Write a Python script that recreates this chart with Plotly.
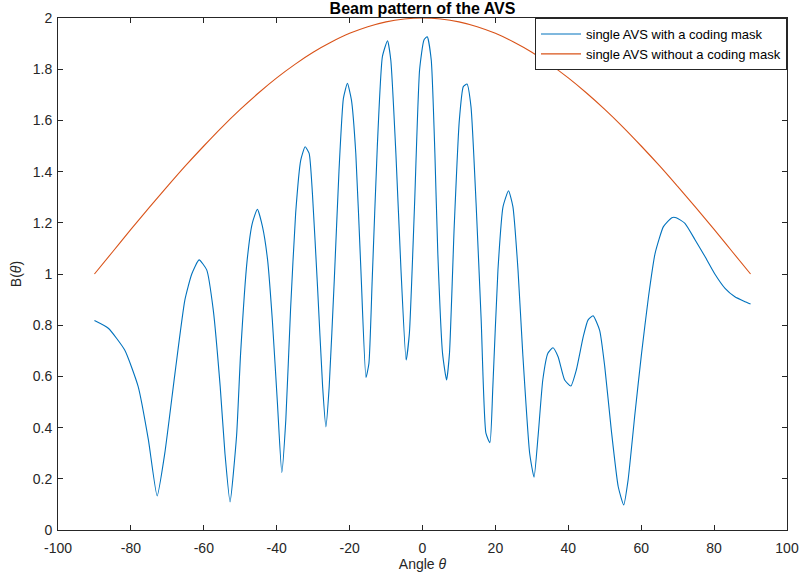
import plotly.graph_objects as go

# ---- data ----
angle_coded = [-90, -86.2, -81.7, -78.0, -75.2, -72.8, -70.7, -67.9, -65.2, -63.3, -61.3,
               -59.2, -57.4, -55.5, -54.2, -52.8, -51.0, -49.9, -48.1, -46.7, -45.3,
               -43.9, -42.5, -41.2, -39.8, -38.6, -37.5, -36.2, -34.8, -33.4, -32.2,
               -31.1, -30.2, -28.8, -27.4, -26.5, -25.6, -24.2, -22.9, -21.7, -20.6,
               -19.5, -18.3, -16.9, -15.5, -14.7, -13.8, -12.4, -11.0, -9.6,
               -8.7, -7.3, -5.9, -4.5, -3.6, -2.2, -0.8, 0.4, 1.3,
               2.4, 3.4, 4.2, 5.5, 6.6, 7.4, 8.7, 10.1, 11.2, 12.2,
               13.3, 14.7, 16.1, 17.4, 18.5, 19.3, 20.7, 22.1, 23.6,
               24.8, 26.2, 27.5, 29.4, 30.6, 31.7, 33.0, 34.4, 35.8,
               37.2, 39.0, 40.7, 42.2, 44.1, 45.4, 46.8,
               48.6, 50.0, 51.8, 53.7, 55.2, 56.4, 58.3, 60.1, 62.0, 63.8, 66.1, 68.4, 69.6,
               72.0, 74.8, 77.5, 80.2, 83.0, 85.7, 88.5, 90]
beam_coded = [0.818, 0.788, 0.703, 0.56, 0.352, 0.133, 0.30, 0.613, 0.898, 1.00, 1.055,
              1.016, 0.859, 0.56, 0.30, 0.11, 0.37, 0.69, 1.055, 1.198, 1.253,
              1.185, 1.055, 0.82, 0.495, 0.224, 0.43, 0.86, 1.237, 1.445, 1.497,
              1.471, 1.315, 0.95, 0.56, 0.403, 0.56, 0.977, 1.406, 1.686, 1.745,
              1.680, 1.471, 1.016, 0.596, 0.651, 0.977, 1.497, 1.849, 1.911,
              1.836, 1.471, 1.016, 0.664, 0.768, 1.263, 1.797, 1.914, 1.927,
              1.836, 1.471, 1.081, 0.69, 0.586, 0.69, 1.185, 1.60, 1.732, 1.742,
              1.654, 1.276, 0.82, 0.378, 0.341, 0.56, 1.016, 1.263, 1.325,
              1.263, 1.016, 0.69, 0.30, 0.206, 0.365, 0.586, 0.69, 0.712,
              0.677, 0.586, 0.5625, 0.625, 0.755, 0.82, 0.837,
              0.78, 0.638, 0.39, 0.169, 0.098, 0.195, 0.456, 0.69, 0.911, 1.08, 1.185, 1.22, 1.22,
              1.198, 1.133, 1.068, 1.0, 0.944, 0.911, 0.892, 0.883]

angle_plain = [-90, -85, -80, -75, -70, -65, -60, -55, -50, -45, -40, -35, -30, -25, -20,
               -15, -10, -5, 0, 5, 10, 15, 20, 25, 30, 35, 40, 45, 50, 55, 60, 65, 70,
               75, 80, 85, 90]
beam_plain = [1.0, 1.087, 1.174, 1.259, 1.342, 1.423, 1.5, 1.574, 1.643, 1.707, 1.766,
              1.819, 1.866, 1.906, 1.94, 1.966, 1.985, 1.996, 2.0, 1.996, 1.985, 1.966,
              1.94, 1.906, 1.866, 1.819, 1.766, 1.707, 1.643, 1.574, 1.5, 1.423, 1.342,
              1.259, 1.174, 1.087, 1.0]

x_ticks = [-100, -80, -60, -40, -20, 0, 20, 40, 60, 80, 100]
x_tick_labels = ["-100", "-80", "-60", "-40", "-20", "0", "20", "40", "60", "80", "100"]
y_ticks = [0, 0.2, 0.4, 0.6, 0.8, 1, 1.2, 1.4, 1.6, 1.8, 2]
y_tick_labels = ["0", "0.2", "0.4", "0.6", "0.8", "1", "1.2", "1.4", "1.6", "1.8", "2"]

FONT = "Liberation Sans, Arial, Helvetica, sans-serif"
AX = "#262626"

fig = go.Figure()
fig.add_trace(go.Scatter(x=angle_coded, y=beam_coded, mode="lines",
                         name="single AVS with a coding mask",
                         line=dict(color="#0072BD", width=1.1, shape="spline",
                                   smoothing=0.5)))
fig.add_trace(go.Scatter(x=angle_plain, y=beam_plain, mode="lines",
                         name="single AVS without a coding mask",
                         line=dict(color="#D95319", width=1.1, shape="spline")))

axis_common = dict(showgrid=False, zeroline=False, showline=True, linecolor=AX,
                   linewidth=1, mirror="ticks", ticks="inside", ticklen=5,
                   tickcolor=AX, automargin=False,
                   tickfont=dict(family=FONT, size=14, color=AX))

fig.update_layout(
    width=803, height=585,
    margin=dict(l=58, r=16, t=18, b=55),
    paper_bgcolor="white", plot_bgcolor="white",
    font=dict(family=FONT, color=AX),
    title=dict(text="<b>Beam pattern of the AVS</b>", x=0.5, xanchor="center",
               xref="paper", y=1 - 8 / 585, yanchor="middle", yref="container",
               font=dict(family=FONT, size=16, color="black")),
    xaxis=dict(range=[-100, 100], tickvals=x_ticks, ticktext=x_tick_labels,
               ticklabelstandoff=5,
               title=dict(text="Angle <i>θ</i>", font=dict(family=FONT, size=14, color=AX),
                          standoff=4),
               **axis_common),
    yaxis=dict(range=[0, 2], tickvals=y_ticks, ticktext=y_tick_labels,
               ticklabelstandoff=2,
               title=dict(text="B(<i>θ</i>)", font=dict(family=FONT, size=14, color=AX),
                          standoff=7),
               **axis_common),
    legend=dict(x=1, y=1, xanchor="right", yanchor="top", bgcolor="white",
                bordercolor=AX, borderwidth=1,
                font=dict(family=FONT, size=13, color="black"),
                tracegroupgap=0, itemwidth=40),
    showlegend=True,
)

fig.write_html("out.html")
